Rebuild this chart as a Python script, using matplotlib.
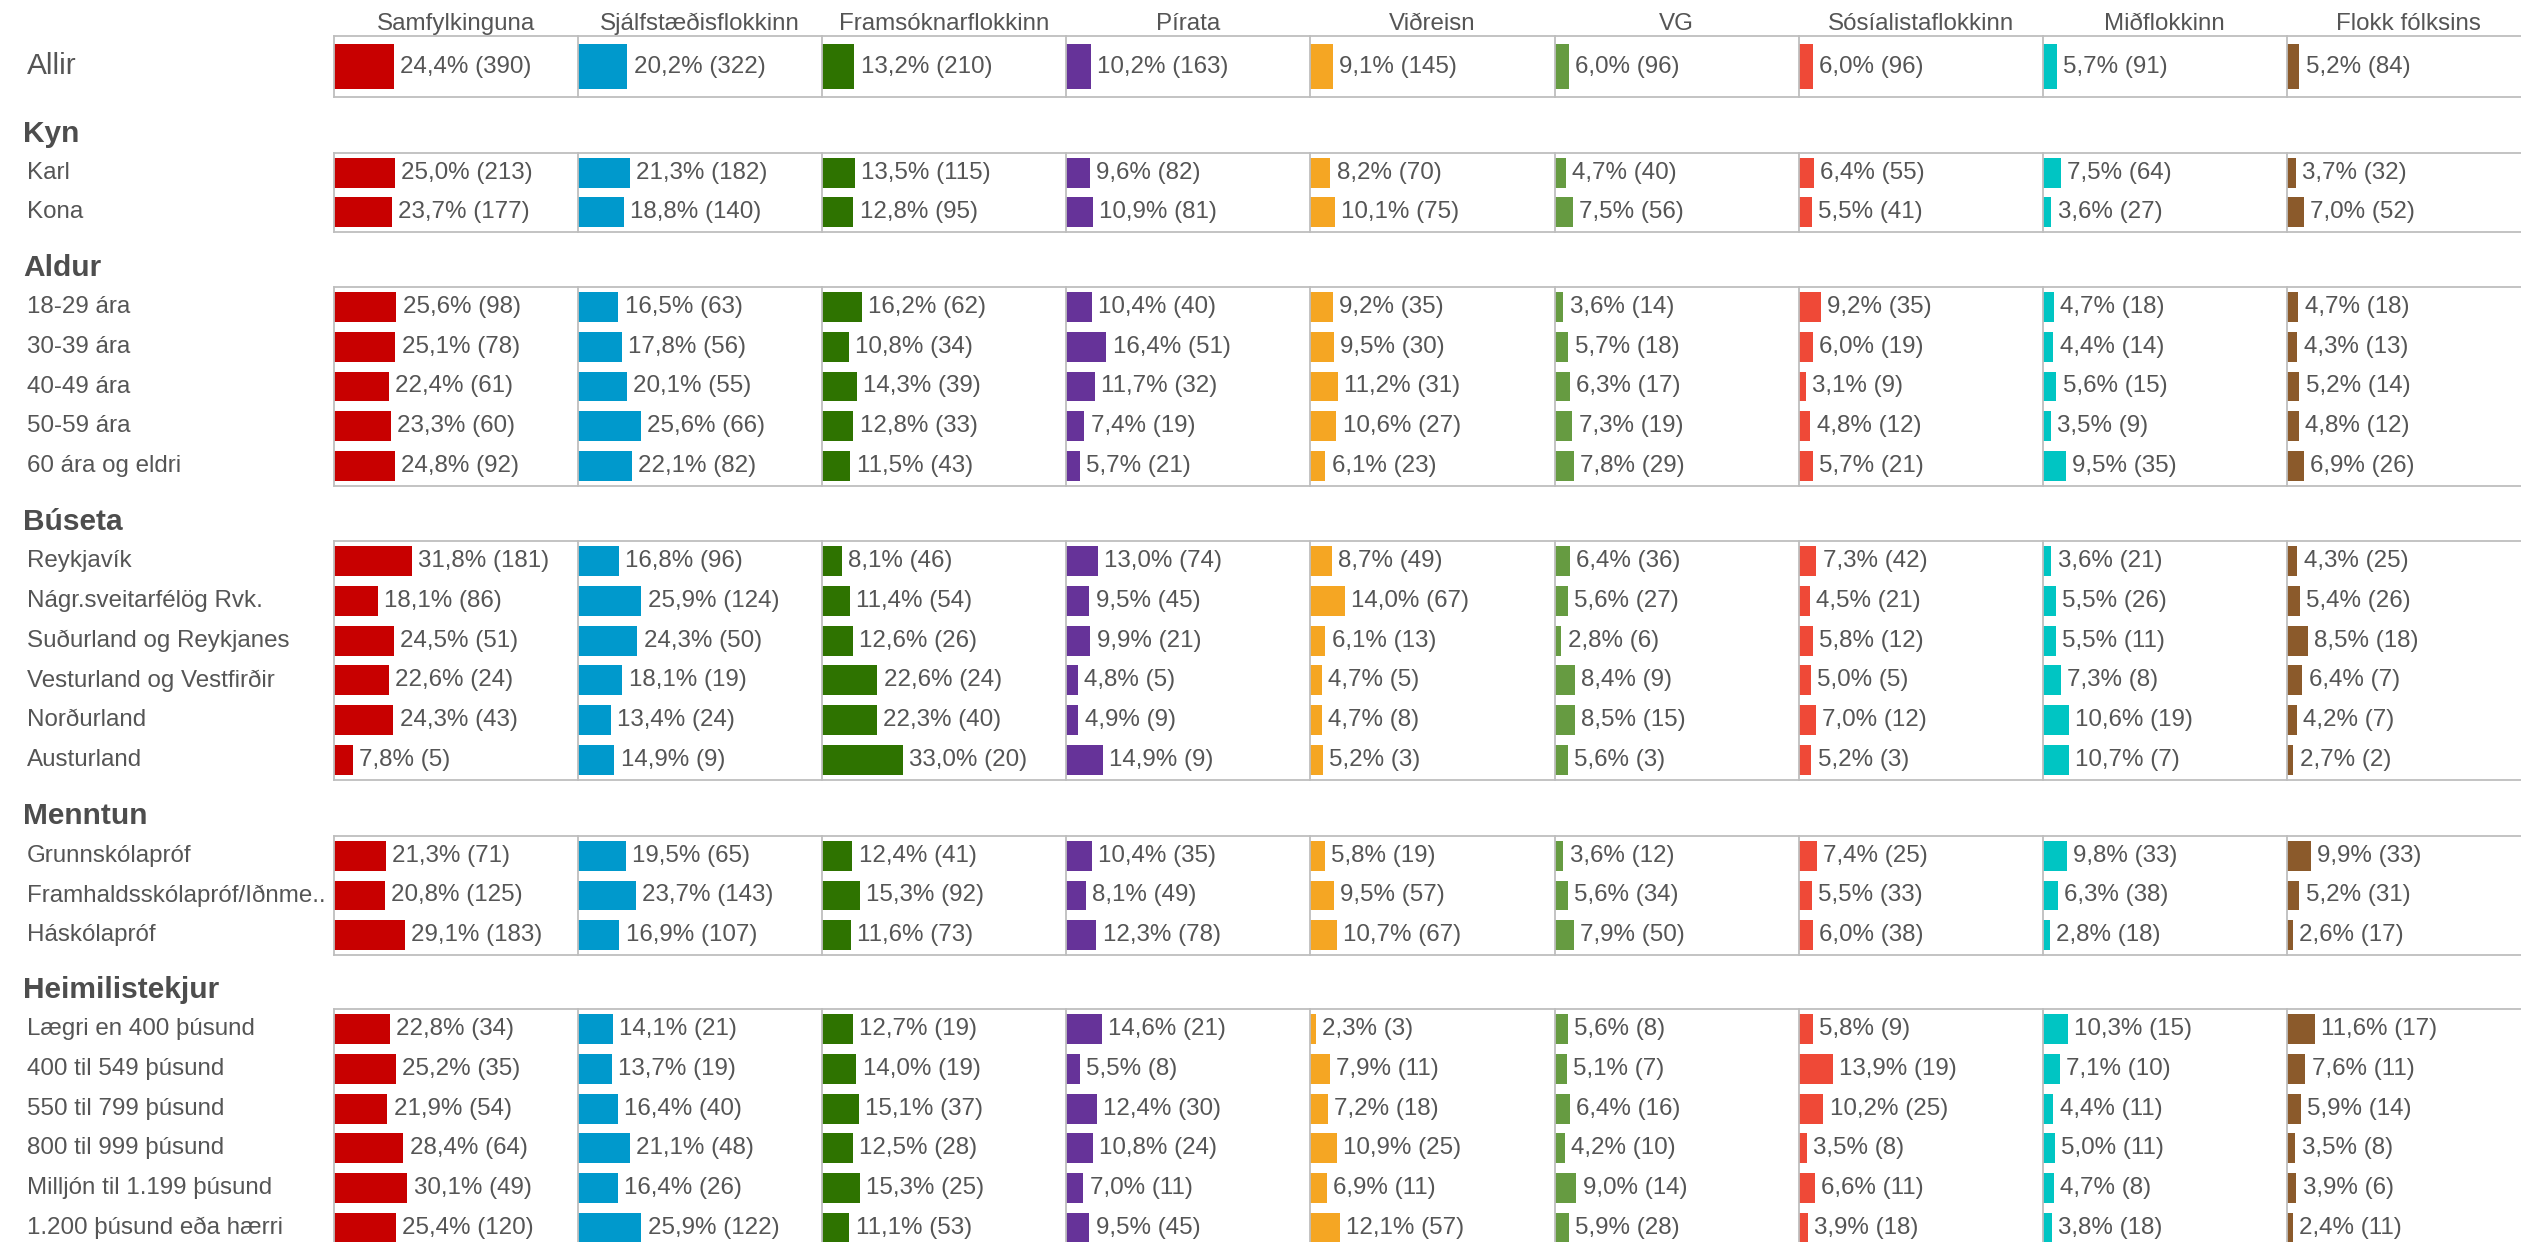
import matplotlib.pyplot as plt

parties = ["Samfylkinguna", "Sjálfstæðisflokkinn", "Framsóknarflokkinn", "Pírata",
           "Viðreisn", "VG", "Sósíalistaflokkinn", "Miðflokkinn", "Flokk fólksins"]
colors = ["#c80000", "#0099cc", "#2e7300", "#663399", "#f5a623",
          "#669b41", "#ef4937", "#00c5c3", "#8b5a2b"]

allir_pct = [[24.4, 20.2, 13.2, 10.2, 9.1, 6.0, 6.0, 5.7, 5.2]]
allir_n = [[390, 322, 210, 163, 145, 96, 96, 91, 84]]

kyn_labels = ["Karl", "Kona"]
kyn_pct = [[25.0, 21.3, 13.5, 9.6, 8.2, 4.7, 6.4, 7.5, 3.7],
           [23.7, 18.8, 12.8, 10.9, 10.1, 7.5, 5.5, 3.6, 7.0]]
kyn_n = [[213, 182, 115, 82, 70, 40, 55, 64, 32],
         [177, 140, 95, 81, 75, 56, 41, 27, 52]]

aldur_labels = ["18-29 ára", "30-39 ára", "40-49 ára", "50-59 ára", "60 ára og eldri"]
aldur_pct = [[25.6, 16.5, 16.2, 10.4, 9.2, 3.6, 9.2, 4.7, 4.7],
             [25.1, 17.8, 10.8, 16.4, 9.5, 5.7, 6.0, 4.4, 4.3],
             [22.4, 20.1, 14.3, 11.7, 11.2, 6.3, 3.1, 5.6, 5.2],
             [23.3, 25.6, 12.8, 7.4, 10.6, 7.3, 4.8, 3.5, 4.8],
             [24.8, 22.1, 11.5, 5.7, 6.1, 7.8, 5.7, 9.5, 6.9]]
aldur_n = [[98, 63, 62, 40, 35, 14, 35, 18, 18],
           [78, 56, 34, 51, 30, 18, 19, 14, 13],
           [61, 55, 39, 32, 31, 17, 9, 15, 14],
           [60, 66, 33, 19, 27, 19, 12, 9, 12],
           [92, 82, 43, 21, 23, 29, 21, 35, 26]]

buseta_labels = ["Reykjavík", "Nágr.sveitarfélög Rvk.", "Suðurland og Reykjanes",
                 "Vesturland og Vestfirðir", "Norðurland", "Austurland"]
buseta_pct = [[31.8, 16.8, 8.1, 13.0, 8.7, 6.4, 7.3, 3.6, 4.3],
              [18.1, 25.9, 11.4, 9.5, 14.0, 5.6, 4.5, 5.5, 5.4],
              [24.5, 24.3, 12.6, 9.9, 6.1, 2.8, 5.8, 5.5, 8.5],
              [22.6, 18.1, 22.6, 4.8, 4.7, 8.4, 5.0, 7.3, 6.4],
              [24.3, 13.4, 22.3, 4.9, 4.7, 8.5, 7.0, 10.6, 4.2],
              [7.8, 14.9, 33.0, 14.9, 5.2, 5.6, 5.2, 10.7, 2.7]]
buseta_n = [[181, 96, 46, 74, 49, 36, 42, 21, 25],
            [86, 124, 54, 45, 67, 27, 21, 26, 26],
            [51, 50, 26, 21, 13, 6, 12, 11, 18],
            [24, 19, 24, 5, 5, 9, 5, 8, 7],
            [43, 24, 40, 9, 8, 15, 12, 19, 7],
            [5, 9, 20, 9, 3, 3, 3, 7, 2]]

menntun_labels = ["Grunnskólapróf", "Framhaldsskólapróf/Iðnme..", "Háskólapróf"]
menntun_pct = [[21.3, 19.5, 12.4, 10.4, 5.8, 3.6, 7.4, 9.8, 9.9],
               [20.8, 23.7, 15.3, 8.1, 9.5, 5.6, 5.5, 6.3, 5.2],
               [29.1, 16.9, 11.6, 12.3, 10.7, 7.9, 6.0, 2.8, 2.6]]
menntun_n = [[71, 65, 41, 35, 19, 12, 25, 33, 33],
             [125, 143, 92, 49, 57, 34, 33, 38, 31],
             [183, 107, 73, 78, 67, 50, 38, 18, 17]]

tekjur_labels = ["Lægri en 400 þúsund", "400 til 549 þúsund", "550 til 799 þúsund",
                 "800 til 999 þúsund", "Milljón til 1.199 þúsund", "1.200 þúsund eða hærri"]
tekjur_pct = [[22.8, 14.1, 12.7, 14.6, 2.3, 5.6, 5.8, 10.3, 11.6],
              [25.2, 13.7, 14.0, 5.5, 7.9, 5.1, 13.9, 7.1, 7.6],
              [21.9, 16.4, 15.1, 12.4, 7.2, 6.4, 10.2, 4.4, 5.9],
              [28.4, 21.1, 12.5, 10.8, 10.9, 4.2, 3.5, 5.0, 3.5],
              [30.1, 16.4, 15.3, 7.0, 6.9, 9.0, 6.6, 4.7, 3.9],
              [25.4, 25.9, 11.1, 9.5, 12.1, 5.9, 3.9, 3.8, 2.4]]
tekjur_n = [[34, 21, 19, 21, 3, 8, 9, 15, 17],
            [35, 19, 19, 8, 11, 7, 19, 10, 11],
            [54, 40, 37, 30, 18, 16, 25, 11, 14],
            [64, 48, 28, 24, 25, 10, 8, 11, 8],
            [49, 26, 25, 11, 11, 14, 11, 8, 6],
            [120, 122, 53, 45, 57, 28, 18, 18, 11]]

# layout in pixels
W, H = 2521, 1242
plt.rcParams['font.family'] = ['Liberation Sans', 'DejaVu Sans']
fig = plt.figure(figsize=(W / 100, H / 100), dpi=100)

col_left = 334
col_w = 244.1
txt = '#555555'
line = '#bebebe'
fs = 17.4


def fmt(p, n):
    return f"{p:.1f}".replace('.', ',') + f"% ({n})"


def draw_block(top, height, labels, pct, n, label_size=fs):
    nrows = len(pct)
    pitch = height / nrows
    for j in range(len(parties)):
        ax = fig.add_axes([(col_left + j * col_w) / W, 1 - (top + height) / H,
                           col_w / W, height / H])
        vals = [row[j] / 100 for row in pct]
        ax.barh(range(nrows), vals, height=0.75, color=colors[j])
        ax.set_xlim(0, 1)
        ax.set_ylim(nrows - 0.5, -0.5)
        for i, v in enumerate(vals):
            ax.annotate(fmt(pct[i][j], n[i][j]), (v, i), xytext=(4.5, 0),
                        textcoords='offset points', va='center', ha='left',
                        fontsize=fs, color=txt)
        ax.set_xticks([])
        ax.set_yticks([])
        for s in ['left', 'top', 'bottom']:
            ax.spines[s].set_color(line)
            ax.spines[s].set_linewidth(1.3)
        ax.spines['right'].set_visible(False)
    for i, lab in enumerate(labels):
        fig.text(27 / W, 1 - (top + pitch * (i + 0.5)) / H, lab, ha='left',
                 va='center', fontsize=label_size, color=txt)


def section_header(top, title):
    fig.text(23 / W, 1 - (top - 11.5) / H, title, ha='left', va='baseline',
             fontsize=21.5, fontweight='bold', color='#4d4d4d')


# party names
for j, p in enumerate(parties):
    fig.text((col_left + (j + 0.5) * col_w) / W, 1 - 30 / H, p, ha='center',
             va='baseline', fontsize=fs, color=txt)

draw_block(36, 61, ["Allir"], allir_pct, allir_n, label_size=21.5)

sections = [
    (153, "Kyn", kyn_labels, kyn_pct, kyn_n),
    (287, "Aldur", aldur_labels, aldur_pct, aldur_n),
    (541, "Búseta", buseta_labels, buseta_pct, buseta_n),
    (836, "Menntun", menntun_labels, menntun_pct, menntun_n),
    (1009, "Heimilistekjur", tekjur_labels, tekjur_pct, tekjur_n),
]
for top, title, labels, pct, n in sections:
    section_header(top, title)
    draw_block(top, 40 * len(pct) - 1, labels, pct, n)

fig.savefig("out.png", dpi=100)
